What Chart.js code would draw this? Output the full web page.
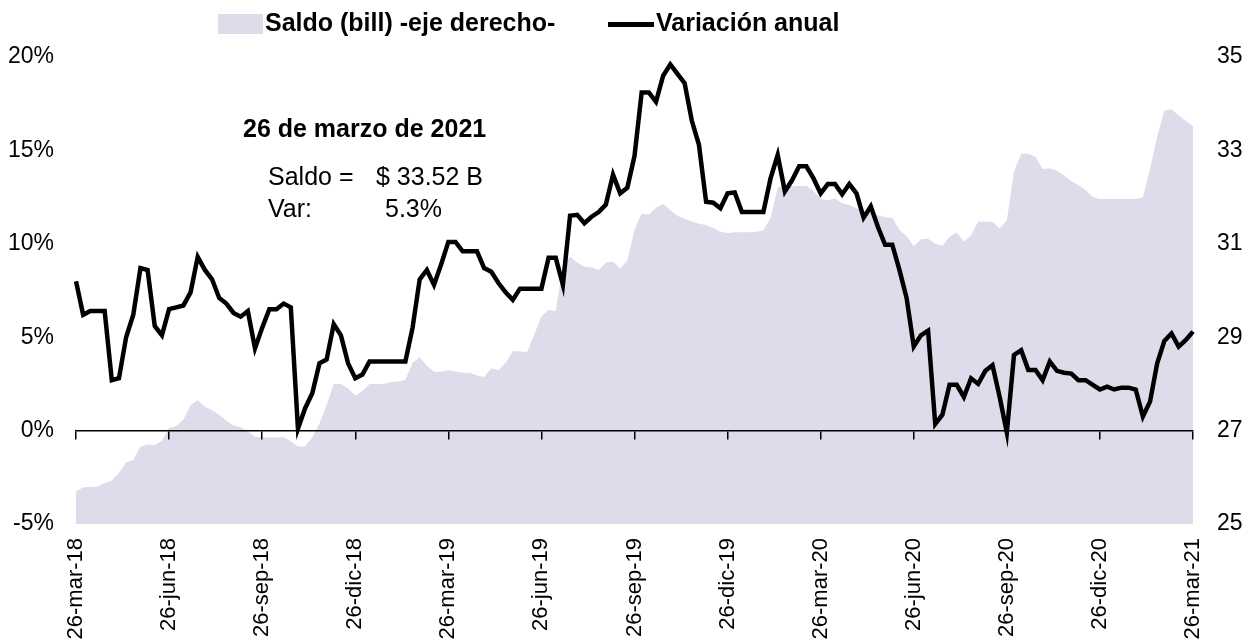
<!DOCTYPE html>
<html>
<head>
<meta charset="utf-8">
<script src="https://cdn.jsdelivr.net/npm/chart.js@4.4.1/dist/chart.umd.min.js"></script>
<style>
  html, body { margin: 0; padding: 0; background: #fff; }
  #wrap { width: 1251px; height: 644px; }
</style>
</head>
<body>
<div id="wrap"><canvas id="saldoChart" width="1251" height="644"></canvas></div>
<script>
// ── Data (weekly, 26-mar-18 .. 26-mar-21) ─────────────────────
const quarterLabels = ['26-mar-18', '26-jun-18', '26-sep-18', '26-dic-18', '26-mar-19', '26-jun-19',
                       '26-sep-19', '26-dic-19', '26-mar-20', '26-jun-20', '26-sep-20', '26-dic-20', '26-mar-21'];

// Variación anual (%), eje izquierdo
const variacion = [
    8.0, 6.2, 6.4, 6.4, 6.4, 2.7, 2.8, 5.0, 6.2, 8.7, 8.6, 5.6, 5.1, 6.5, 6.6, 6.7, 7.4, 9.3, 8.6, 8.1,
    7.1, 6.8, 6.3, 6.1, 6.4, 4.4, 5.5, 6.5, 6.5, 6.8, 6.6, 0.1, 1.2, 2.0, 3.6, 3.8, 5.7, 5.1, 3.6, 2.8,
    3.0, 3.7, 3.7, 3.7, 3.7, 3.7, 3.7, 5.5, 8.1, 8.6, 7.8, 8.9, 10.1, 10.1, 9.6, 9.6, 9.6, 8.7, 8.5, 7.9,
    7.4, 7.0, 7.6, 7.6, 7.6, 7.6, 9.25, 9.25, 7.8, 11.5, 11.55, 11.1, 11.45, 11.7, 12.1, 13.7, 12.7, 13.0, 14.7, 18.1,
    18.1, 17.6, 19.0, 19.6, 19.1, 18.6, 16.6, 15.3, 12.25, 12.2, 11.9, 12.7, 12.75, 11.7, 11.7, 11.7, 11.7, 13.5, 14.75, 12.8,
    13.4, 14.15, 14.15, 13.5, 12.7, 13.2, 13.2, 12.65, 13.2, 12.7, 11.4, 12.0, 10.9, 9.95, 9.95, 8.6, 7.1, 4.5, 5.1, 5.35,
    0.35, 0.85, 2.45, 2.45, 1.8, 2.8, 2.5, 3.2, 3.5, 1.8, -0.1, 4.05, 4.3, 3.25, 3.25, 2.7, 3.7, 3.2, 3.1, 3.05,
    2.7, 2.7, 2.45, 2.2, 2.35, 2.2, 2.3, 2.3, 2.2, 0.75, 1.55, 3.6, 4.8, 5.2, 4.5, 4.85, 5.3
];

// Saldo (billones), eje derecho
const saldo = [
    25.70, 25.78, 25.80, 25.80, 25.88, 25.93, 26.09, 26.32, 26.37, 26.66, 26.70, 26.69, 26.78, 27.06, 27.10, 27.23, 27.55, 27.65, 27.51, 27.44,
    27.34, 27.21, 27.11, 27.07, 26.98, 26.87, 26.85, 26.85, 26.85, 26.86, 26.77, 26.66, 26.66, 26.86, 27.15, 27.55, 28.00, 28.00, 27.90, 27.75,
    27.85, 28.00, 28.00, 28.00, 28.04, 28.05, 28.09, 28.45, 28.57, 28.39, 28.26, 28.26, 28.29, 28.27, 28.24, 28.24, 28.18, 28.15, 28.33, 28.30,
    28.45, 28.70, 28.70, 28.68, 29.05, 29.45, 29.58, 29.56, 30.50, 30.73, 30.60, 30.51, 30.49, 30.44, 30.60, 30.62, 30.47, 30.65, 31.30, 31.65,
    31.62, 31.77, 31.85, 31.72, 31.60, 31.53, 31.48, 31.43, 31.40, 31.34, 31.26, 31.23, 31.25, 31.25, 31.25, 31.26, 31.29, 31.55, 32.20, 32.26,
    32.23, 32.24, 32.24, 32.13, 31.96, 31.93, 31.97, 31.87, 31.83, 31.76, 31.69, 31.66, 31.61, 31.57, 31.56, 31.30, 31.16, 30.95, 31.10, 31.11,
    31.00, 30.96, 31.15, 31.24, 31.05, 31.18, 31.48, 31.47, 31.47, 31.33, 31.50, 32.55, 32.93, 32.93, 32.86, 32.60, 32.62, 32.56, 32.46, 32.34,
    32.26, 32.15, 32.00, 31.96, 31.96, 31.96, 31.96, 31.96, 31.96, 31.99, 32.60, 33.30, 33.85, 33.88, 33.75, 33.63, 33.52
];

// one label per week; only quarter starts carry text
const weeks = variacion.map((_, i) => (i % 13 === 0 ? quarterLabels[i / 13] : ''));

const AREA_COLOR = '#DFDBEA';
const FONT = "'Liberation Sans', Arial, sans-serif";

// ── Legend + note (drawn on the canvas) ───────────────────────
const notesPlugin = {
    id: 'notes',
    afterDraw(chart) {
        const ctx = chart.ctx;
        ctx.save();
        ctx.textBaseline = 'middle';
        ctx.textAlign = 'left';

        // legend
        ctx.fillStyle = AREA_COLOR;
        ctx.fillRect(218, 14, 45, 20);
        ctx.fillStyle = '#000';
        ctx.font = 'bold 25px ' + FONT;
        ctx.fillText(chart.data.datasets[1].label, 265, 24);
        ctx.fillRect(608, 22, 46, 5);
        ctx.fillText(chart.data.datasets[0].label, 656, 24);

        // latest value box
        ctx.font = 'bold 25px ' + FONT;
        ctx.fillText('26 de marzo de 2021', 243, 130);
        ctx.font = '25px ' + FONT;
        ctx.fillText('Saldo =', 268, 178);
        ctx.fillText('$ 33.52 B', 376, 178);
        ctx.fillText('Var:', 268, 210);
        ctx.fillText('5.3%', 385, 210);
        ctx.restore();
    }
};

const tickFont = { family: FONT, size: 23 };

new Chart(document.getElementById('saldoChart'), {
    type: 'line',
    data: {
        labels: weeks,
        datasets: [
            {
                label: 'Variación anual',
                data: variacion,
                yAxisID: 'y',
                borderColor: '#000',
                borderWidth: 4.5,
                pointRadius: 0,
                fill: false,
                tension: 0,
                order: 1
            },
            {
                label: 'Saldo (bill) -eje derecho-',
                data: saldo,
                yAxisID: 'y2',
                backgroundColor: AREA_COLOR,
                borderWidth: 0,
                pointRadius: 0,
                fill: 'start',
                tension: 0,
                order: 2
            }
        ]
    },
    options: {
        responsive: false,
        animation: false,
        devicePixelRatio: 1,
        layout: { padding: { top: 57, left: 0, right: 0, bottom: 0 } },
        plugins: {
            legend: { display: false },
            tooltip: { enabled: false }
        },
        scales: {
            x: {
                type: 'category',
                position: 'bottom',
                grid: { display: false, drawTicks: false },
                border: { display: false },
                ticks: {
                    autoSkip: false,
                    maxRotation: 90,
                    minRotation: 90,
                    padding: 14,
                    color: '#000',
                    font: { family: FONT, size: 22 },
                    callback: (v, i) => weeks[i] || null
                },
                afterFit: s => { s.height = 120; }
            },
            // zero line with quarter tick marks, drawn over the area
            xZero: {
                type: 'category',
                axis: 'x',
                position: { y: 0 },
                grid: {
                    z: 1,
                    drawOnChartArea: false,
                    drawTicks: true,
                    tickLength: 8,
                    lineWidth: 1.5,
                    color: c => (c.index % 13 === 0 ? '#000' : 'rgba(0,0,0,0)')
                },
                border: { display: true, color: '#000', width: 1.5, z: 1 },
                ticks: { display: false, autoSkip: false }
            },
            y: {
                position: 'left',
                min: -5,
                max: 20,
                grid: { display: false },
                border: { display: false },
                ticks: {
                    stepSize: 5,
                    padding: 14,
                    color: '#000',
                    font: tickFont,
                    callback: v => v + '%'
                },
                afterFit: s => { s.width = 76; }
            },
            y2: {
                position: 'right',
                min: 25,
                max: 35,
                grid: { display: false },
                border: { display: false },
                ticks: {
                    stepSize: 2,
                    padding: 16,
                    color: '#000',
                    font: tickFont
                },
                afterFit: s => { s.width = 58; }
            }
        }
    },
    plugins: [notesPlugin]
});
</script>
</body>
</html>
